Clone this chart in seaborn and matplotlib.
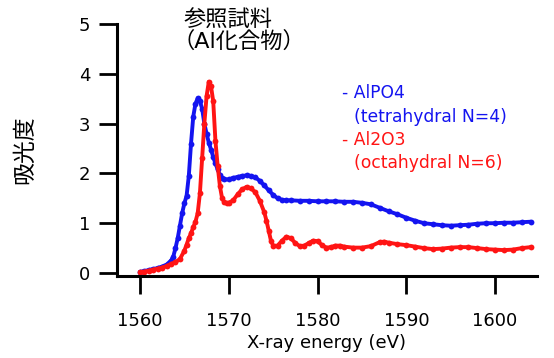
import matplotlib
matplotlib.use("Agg")
import matplotlib.pyplot as plt
import seaborn as sns
import pandas as pd

# AlPO4 (tetrahedral) spectrum
alpo4_energy = [1560.0, 1560.5, 1561.0, 1561.5, 1562.0, 1562.5, 1563.0, 1563.5, 1563.75,
                1564.0, 1564.25, 1564.5, 1564.75, 1565.0, 1565.25, 1565.5, 1565.75, 1566.0,
                1566.25, 1566.5, 1566.75, 1567.0, 1567.25, 1567.5, 1567.75, 1568.0, 1568.25,
                1568.5, 1568.75, 1569.0, 1569.25, 1569.5, 1570.0, 1570.5, 1571.0, 1571.5,
                1572.0, 1572.5, 1573.0, 1573.5, 1574.0, 1574.5, 1575.0, 1575.5, 1576.0,
                1576.5, 1577, 1578, 1579, 1580, 1581, 1582, 1583, 1584, 1585, 1586, 1587,
                1588, 1589, 1590, 1591, 1592, 1593, 1594, 1595, 1596, 1597, 1598, 1599,
                1600, 1601, 1602, 1603, 1604]
alpo4_abs = [0.02, 0.04, 0.06, 0.08, 0.10, 0.13, 0.17, 0.25, 0.33,
             0.50, 0.70, 0.95, 1.20, 1.40, 1.55, 1.95, 2.60, 3.14,
             3.40, 3.51, 3.45, 3.30, 3.00, 2.80, 2.62, 2.48, 2.33,
             2.20, 2.08, 1.97, 1.90, 1.88, 1.88, 1.91, 1.93, 1.95,
             1.96, 1.95, 1.92, 1.85, 1.76, 1.66, 1.57, 1.50, 1.47,
             1.46, 1.46, 1.45, 1.45, 1.44, 1.44, 1.44, 1.43, 1.43, 1.41, 1.38, 1.31,
             1.24, 1.18, 1.11, 1.05, 1.00, 0.98, 0.96, 0.95, 0.96, 0.97, 0.99, 1.00,
             1.00, 1.01, 1.01, 1.02, 1.03]

# Al2O3 (octahedral) spectrum
al2o3_energy = [1560.0, 1560.5, 1561, 1561.5, 1562, 1562.5, 1563, 1563.5, 1564, 1564.5,
                1565, 1565.25, 1565.5, 1565.75, 1566.0, 1566.25, 1566.5, 1566.75, 1567.0,
                1567.25, 1567.5, 1567.75, 1568.0, 1568.25, 1568.5, 1568.75, 1569.0, 1569.25,
                1569.5, 1569.75, 1570.0, 1570.5, 1571.0, 1571.5, 1572.0, 1572.5, 1573.0,
                1573.5, 1574.0, 1574.25, 1574.5, 1574.75, 1575.0, 1575.5, 1576.0, 1576.5,
                1577.0, 1577.5, 1578.0, 1578.5, 1579.0, 1579.5, 1580.0, 1580.5, 1581.0,
                1581.5, 1582.0, 1582.5, 1583, 1584, 1585, 1586, 1587, 1587.5, 1588, 1589,
                1590, 1591, 1592, 1593, 1594, 1595, 1596, 1597, 1598, 1599, 1600, 1601,
                1602, 1603, 1604]
al2o3_abs = [0.02, 0.03, 0.05, 0.07, 0.09, 0.11, 0.14, 0.18, 0.22, 0.28,
             0.45, 0.57, 0.70, 0.80, 0.92, 1.03, 1.20, 1.60, 2.30,
             3.00, 3.55, 3.84, 3.75, 3.45, 2.65, 2.15, 1.75, 1.50,
             1.42, 1.40, 1.41, 1.46, 1.58, 1.68, 1.73, 1.70, 1.62,
             1.45, 1.22, 1.05, 0.85, 0.65, 0.55, 0.55, 0.65, 0.73,
             0.70, 0.60, 0.54, 0.55, 0.60, 0.65, 0.64, 0.56, 0.51,
             0.52, 0.55, 0.55, 0.53, 0.51, 0.51, 0.54, 0.62, 0.63, 0.61, 0.58,
             0.56, 0.53, 0.50, 0.48, 0.49, 0.51, 0.52, 0.52, 0.50, 0.48, 0.47, 0.46,
             0.47, 0.50, 0.52]

x_ticks = [1560, 1570, 1580, 1590, 1600]
y_ticks = [0, 1, 2, 3, 4, 5]

title_line1 = "参照試料"
title_line2 = "（Al化合物）"

df = pd.concat([
    pd.DataFrame({"energy": alpo4_energy, "abs": alpo4_abs, "sample": "AlPO4"}),
    pd.DataFrame({"energy": al2o3_energy, "abs": al2o3_abs, "sample": "Al2O3"}),
], ignore_index=True)

sns.set_style("ticks")
plt.rcParams["font.family"] = ["DejaVu Sans", "Noto Sans CJK JP"]
plt.rcParams["text.color"] = "black"
plt.rcParams["axes.labelcolor"] = "black"

fig = plt.figure(figsize=(5.54, 3.58), dpi=100)
ax = fig.add_axes([0.211, 0.229, 0.758, 0.704])

blue = "#1414f0"
red = "#ff1414"
palette = {"AlPO4": blue, "Al2O3": red}
sns.lineplot(data=df, x="energy", y="abs", hue="sample", palette=palette,
             hue_order=["AlPO4", "Al2O3"], marker="o", markersize=4.2,
             markeredgewidth=0, linewidth=2.8, legend=False, ax=ax, sort=False)

ax.set_xlim(1557.4, 1604.7)
ax.set_ylim(-0.06, 5)
ax.set_xticks(x_ticks)
ax.set_yticks(y_ticks)
ax.tick_params(axis="both", length=13, width=2, labelsize=13, colors="black")
ax.tick_params(axis="x", pad=13)
ax.tick_params(axis="y", pad=6)
for s in ["left", "bottom"]:
    ax.spines[s].set_linewidth(2.2)
    ax.spines[s].set_color("black")
sns.despine(ax=ax)

ax.set_xlabel("X-ray energy (eV)", fontsize=13, labelpad=3, color="black")
ax.set_ylabel("吸光度", fontsize=16.5, labelpad=31, color="black")

ax.text(0.158, 1.06, title_line1, transform=ax.transAxes,
        fontsize=16, ha="left", va="top", color="black")
ax.text(0.132, 0.975, title_line2, transform=ax.transAxes,
        fontsize=16, ha="left", va="top", color="black")

leg_x = 0.535
fs = 12.3
ax.text(leg_x, 0.726, "- AlPO4", transform=ax.transAxes, color=blue, fontsize=fs, va="center")
ax.text(0.565, 0.631, "(tetrahydral N=4)", transform=ax.transAxes, color=blue, fontsize=fs, va="center")
ax.text(leg_x, 0.540, "- Al2O3", transform=ax.transAxes, color=red, fontsize=fs, va="center")
ax.text(0.565, 0.448, "(octahydral N=6)", transform=ax.transAxes, color=red, fontsize=fs, va="center")

fig.savefig("out.png", dpi=100)
